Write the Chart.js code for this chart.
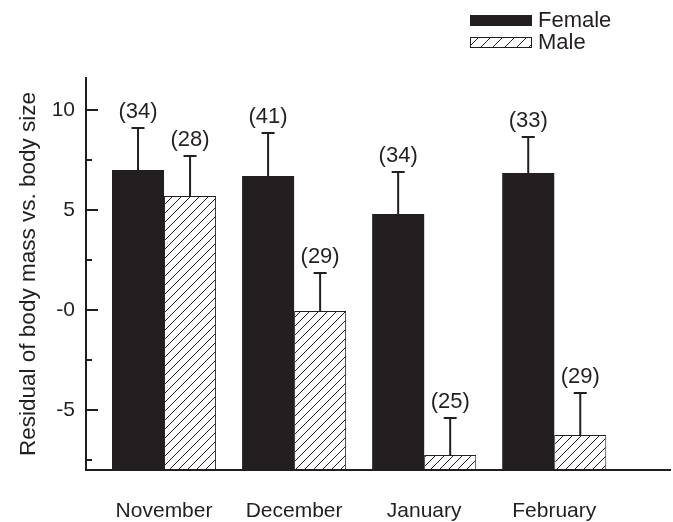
<!DOCTYPE html>
<html>
<head>
<meta charset="utf-8">
<script src="https://cdn.jsdelivr.net/npm/chart.js@4.4.1/dist/chart.umd.min.js"></script>
<style>
    body { margin: 0; background: #fff; }
    #wrap { width: 673px; height: 522px; }
</style>
</head>
<body>
<div id="wrap"><canvas id="myChart"></canvas></div>
<script>
// dados
const months = ['November', 'December', 'January', 'February'];
const femaleMean = [7.0, 6.7, 4.8, 6.85];
const femaleErr = [2.1, 2.15, 2.1, 1.8];
const femaleN = [34, 41, 34, 33];
const maleMean = [5.7, -0.05, -7.25, -6.25];
const maleErr = [2.0, 1.9, 1.85, 2.1];
const maleN = [28, 29, 25, 29];

const yMajorTicks = [-5, 0, 5, 10];
const yMajorLabels = ['-5', '-0', '5', '10'];
const yMinorTicks = [-7.5, -2.5, 2.5, 7.5];
const yMin = -8;
const yMax = 11.6;

const ink = '#231f20';
const fontFamily = '"Liberation Sans", Arial, Helvetica, sans-serif';

function hatchPattern(step) {
    const c = document.createElement('canvas');
    c.width = step;
    c.height = step;
    const g = c.getContext('2d');
    g.fillStyle = '#fff';
    g.fillRect(0, 0, step, step);
    g.strokeStyle = ink;
    g.lineWidth = 1;
    g.beginPath();
    g.moveTo(0, step); g.lineTo(step, 0);
    g.moveTo(-1, 1); g.lineTo(1, -1);
    g.moveTo(step - 1, step + 1); g.lineTo(step + 1, step - 1);
    g.stroke();
    return g.createPattern(c, 'repeat');
}
const hatch = hatchPattern(9);
const legendHatch = hatchPattern(12);

// barras de erro + número da amostra
const errorBars = {
    id: 'errorBars',
    afterDatasetsDraw(chart) {
        const ctx = chart.ctx;
        const y = chart.scales.y;
        const sets = [[femaleMean, femaleErr, femaleN], [maleMean, maleErr, maleN]];
        ctx.save();
        ctx.strokeStyle = ink;
        ctx.fillStyle = ink;
        ctx.lineWidth = 2;
        ctx.font = '22px ' + fontFamily;
        ctx.textAlign = 'center';
        ctx.textBaseline = 'middle';
        sets.forEach(([mean, err, n], di) => {
            chart.getDatasetMeta(di).data.forEach((bar, i) => {
                const y0 = y.getPixelForValue(mean[i]);
                const y1 = y.getPixelForValue(mean[i] + err[i]);
                ctx.beginPath();
                ctx.moveTo(bar.x, y0);
                ctx.lineTo(bar.x, y1);
                ctx.moveTo(bar.x - 6.5, y1);
                ctx.lineTo(bar.x + 6.5, y1);
                ctx.stroke();
                ctx.fillText('(' + n[i] + ')', bar.x, y1 - 16);
            });
        });
        ctx.restore();
    }
};

// marcas do eixo y viradas para dentro
const yTickMarks = {
    id: 'yTickMarks',
    afterDraw(chart) {
        const ctx = chart.ctx;
        const y = chart.scales.y;
        const left = chart.chartArea.left;
        ctx.save();
        ctx.strokeStyle = ink;
        ctx.lineWidth = 2;
        ctx.beginPath();
        yMajorTicks.forEach(v => {
            const p = Math.round(y.getPixelForValue(v));
            ctx.moveTo(left, p);
            ctx.lineTo(left + 12, p);
        });
        yMinorTicks.forEach(v => {
            const p = Math.round(y.getPixelForValue(v));
            ctx.moveTo(left, p);
            ctx.lineTo(left + 6, p);
        });
        ctx.stroke();
        ctx.restore();
    }
};

// legenda empilhada no canto superior direito
const stackedLegend = {
    id: 'stackedLegend',
    afterDraw(chart) {
        const ctx = chart.ctx;
        ctx.save();
        ctx.font = '22px ' + fontFamily;
        ctx.textBaseline = 'middle';
        chart.data.datasets.forEach((ds, i) => {
            const top = 15 + i * 22;
            ctx.fillStyle = i === 0 ? ds.backgroundColor : legendHatch;
            ctx.fillRect(470, top, 62, 11);
            ctx.strokeStyle = ink;
            ctx.lineWidth = 1;
            ctx.strokeRect(470.5, top + 0.5, 61, 10);
            ctx.fillStyle = ink;
            ctx.fillText(ds.label, 538, top + 6);
        });
        ctx.restore();
    }
};

const ctx = document.getElementById('myChart').getContext('2d');
new Chart(ctx, {
    type: 'bar',
    data: {
        datasets: [{
            label: 'Female',
            data: femaleMean.map((v, i) => ({ x: i, y: [yMin, v] })),
            backgroundColor: ink,
            borderColor: ink,
            borderWidth: 0,
        }, {
            label: 'Male',
            data: maleMean.map((v, i) => ({ x: i, y: [yMin, v] })),
            backgroundColor: hatch,
            borderColor: ink,
            borderWidth: 1,
            borderSkipped: false,
        }]
    },
    options: {
        responsive: true,
        maintainAspectRatio: false,
        animation: false,
        categoryPercentage: 0.8,
        barPercentage: 1.0,
        layout: { padding: { top: 78, right: 3, left: 0, bottom: 0 } },
        scales: {
            x: {
                type: 'linear',
                offset: false,
                min: -0.6,
                max: 3.89,
                afterBuildTicks: (scale) => {
                    scale.ticks = months.map((m, i) => ({ value: i }));
                },
                afterFit: (scale) => { scale.height = 52; },
                ticks: {
                    callback: (value) => months[value],
                    color: ink,
                    padding: 29,
                    maxRotation: 0,
                    font: { family: fontFamily, size: 21 },
                },
                grid: { display: false, drawTicks: false, offset: false },
                border: { display: true, color: ink, width: 2 },
            },
            y: {
                min: yMin,
                max: yMax,
                afterBuildTicks: (scale) => {
                    scale.ticks = yMajorTicks.map(v => ({ value: v }));
                },
                afterFit: (scale) => { scale.width = 86; },
                ticks: {
                    callback: (value) => yMajorLabels[yMajorTicks.indexOf(value)],
                    color: ink,
                    padding: 11,
                    font: { family: fontFamily, size: 21 },
                },
                grid: { display: false, drawTicks: false },
                border: { display: true, color: ink, width: 2 },
                title: {
                    display: true,
                    text: 'Residual of body mass vs. body size',
                    color: ink,
                    padding: { top: 15, bottom: 0 },
                    font: { family: fontFamily, size: 22.5 },
                },
            }
        },
        plugins: {
            legend: { display: false },
            tooltip: { enabled: false },
        }
    },
    plugins: [errorBars, yTickMarks, stackedLegend]
});
</script>
</body>
</html>
